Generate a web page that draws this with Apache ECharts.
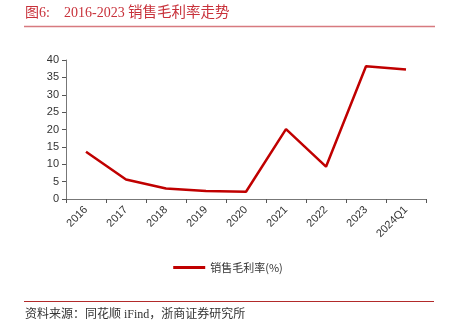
<!DOCTYPE html>
<html><head><meta charset="utf-8">
<script src="https://cdn.jsdelivr.net/npm/echarts@6/dist/echarts.min.js"></script>
<style>html,body{margin:0;padding:0;background:#fff}#c{width:456px;height:335px}</style>
</head><body><div id="c"></div>
<script>
var categories = ['2016','2017','2018','2019','2020','2021','2022','2023','2024Q1'];
var grossMargin = [13.6, 5.6, 3.0, 2.3, 2.1, 20.1, 9.3, 38.2, 37.3];
var yTicks = [0, 5, 10, 15, 20, 25, 30, 35, 40];
var seriesName = '销售毛利率(%)';
var titleParts = ['图6:', '2016-2023', '销售毛利率走势'];
var sourceText = '资料来源：同花顺 iFind，浙商证券研究所';

var chart = echarts.init(document.getElementById('c'), null, {renderer: 'canvas'});
var serifFont = '"Liberation Serif","Times New Roman","Noto Sans CJK SC",serif';
chart.setOption({
  animation: false,
  grid: {left: 66, right: 30, top: 60, bottom: 136, containLabel: false},
  legend: {
    data: [seriesName], top: 257, left: 'center',
    itemWidth: 32, itemHeight: 3, icon: 'rect', itemGap: 10,
    textStyle: {color: '#333', fontSize: 11, fontFamily: '"Noto Sans CJK SC",sans-serif'}
  },
  xAxis: {
    type: 'category', data: categories, boundaryGap: true,
    axisLine: {lineStyle: {color: '#777', width: 1}},
    axisTick: {show: true, alignWithLabel: false, length: 4, lineStyle: {color: '#555'}},
    axisLabel: {rotate: 45, color: '#333', fontSize: 11, margin: 9, fontFamily: '"Liberation Sans",Arial,sans-serif'}
  },
  yAxis: {
    type: 'value', min: yTicks[0], max: yTicks[yTicks.length-1], interval: 5,
    splitLine: {show: false},
    axisLine: {show: true, lineStyle: {color: '#777'}},
    axisTick: {show: true, length: 4, lineStyle: {color: '#555'}},
    axisLabel: {color: '#333', fontSize: 11, margin: 7, fontFamily: '"Liberation Sans",Arial,sans-serif'}
  },
  series: [{
    name: seriesName, type: 'line', data: grossMargin,
    symbol: 'none', lineStyle: {color: '#c00000', width: 2.5}, itemStyle: {color: '#c00000'}
  }],
  graphic: [
    {type: 'text', left: 25, top: 6, style: {text: titleParts[0], fill: '#c8313a', font: '14px ' + serifFont}},
    {type: 'text', left: 64, top: 6, style: {text: titleParts[1], fill: '#c8313a', font: '14px ' + serifFont}},
    {type: 'text', left: 128, top: 6, style: {text: titleParts[2], fill: '#c8313a', font: '14.5px ' + serifFont}},
    {type: 'line', shape: {x1: 24, y1: 26.5, x2: 435, y2: 26.5}, style: {stroke: '#d77a7f', lineWidth: 1.5}},
    {type: 'line', shape: {x1: 24, y1: 301.5, x2: 434, y2: 301.5}, style: {stroke: '#b22a2a', lineWidth: 1}},
    {type: 'text', left: 25, top: 309, style: {text: sourceText, fill: '#333', font: '12px ' + serifFont}}
  ]
});
</script></body></html>
